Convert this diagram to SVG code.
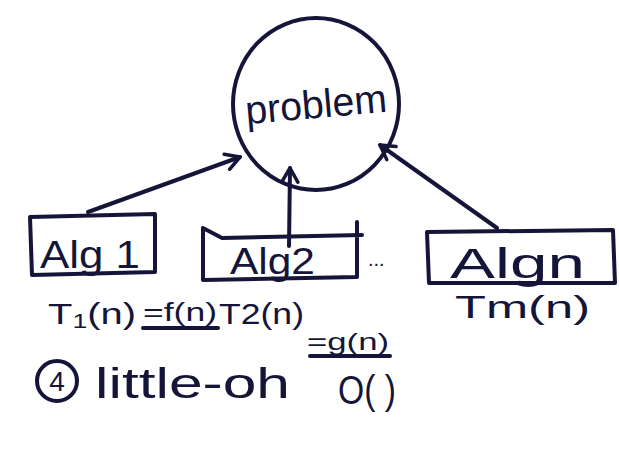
<svg xmlns="http://www.w3.org/2000/svg" width="619" height="461" viewBox="0 0 619 461">
<defs>
<style>
.ink{fill:none;stroke:#15153a;stroke-width:4;stroke-linecap:round;stroke-linejoin:round}
.t{font-family:"Liberation Sans","Open Sans",sans-serif;fill:#15153a}
</style>
<marker id="ah" viewBox="0 0 20 20" refX="16" refY="10" markerWidth="20" markerHeight="20" markerUnits="userSpaceOnUse" orient="auto">
<path d="M2,2 L16,10 L2,18" fill="none" stroke="#15153a" stroke-width="3.5" stroke-linecap="round" stroke-linejoin="round"/>
</marker>
</defs>
<rect width="619" height="461" fill="#ffffff"/>
<g id="problem">
<ellipse class="ink" cx="316" cy="104" rx="83" ry="86"/>
<text class="t" x="245" y="118" font-size="40" textLength="142" lengthAdjust="spacingAndGlyphs" transform="rotate(-5 316 104)">problem</text>
</g>
<g id="connectors">
<line class="ink" x1="88" y1="212" x2="240" y2="157" marker-end="url(#ah)"/>
<line class="ink" x1="289" y1="246" x2="290" y2="168" marker-end="url(#ah)"/>
<line class="ink" x1="497" y1="228" x2="380" y2="145" marker-end="url(#ah)"/>
</g>
<g id="alg1">
<path class="ink" d="M30,217 L155,214 L155,272 L32,275 Z"/>
<text class="t" x="40" y="268" font-size="38" textLength="100" lengthAdjust="spacingAndGlyphs">Alg 1</text>
</g>
<g id="alg2">
<path class="ink" d="M203,228 L222,238 L362,235 M357,222 L357,277 L203,280 L203,228"/>
<text class="t" x="230" y="274" font-size="36" textLength="85" lengthAdjust="spacingAndGlyphs">Alg2</text>
</g>
<text class="t" x="368" y="266" font-size="20">...</text>
<g id="algn">
<path class="ink" d="M427,232 L613,230 L615,283 L429,283 Z"/>
<text class="t" x="450" y="278" font-size="42" textLength="135" lengthAdjust="spacingAndGlyphs">Algn</text>
</g>
<g id="labels">
<text class="t" x="48" y="324" font-size="30" textLength="88" lengthAdjust="spacingAndGlyphs">T<tspan font-size="20" dy="4">1</tspan><tspan dy="-4">(n)</tspan></text>
<text class="t" x="143" y="321" font-size="26" textLength="74" lengthAdjust="spacingAndGlyphs">=f(n)</text>
<line class="ink" x1="143" y1="328" x2="218" y2="328"/>
<text class="t" x="219" y="324" font-size="30" textLength="85" lengthAdjust="spacingAndGlyphs">T2(n)</text>
<text class="t" x="307" y="350" font-size="24" textLength="82" lengthAdjust="spacingAndGlyphs">=g(n)</text>
<line class="ink" x1="310" y1="356" x2="390" y2="356"/>
<text class="t" x="455" y="318" font-size="32" textLength="135" lengthAdjust="spacingAndGlyphs">Tm(n)</text>
<circle class="ink" cx="57" cy="381" r="20"/>
<text class="t" x="57" y="391" font-size="28" text-anchor="middle">4</text>
<text class="t" x="95" y="398" font-size="42" textLength="195" lengthAdjust="spacingAndGlyphs">little-oh</text>
<text class="t" x="338" y="404" font-size="40" textLength="58" lengthAdjust="spacingAndGlyphs">O( )</text>
</g>
</svg>
